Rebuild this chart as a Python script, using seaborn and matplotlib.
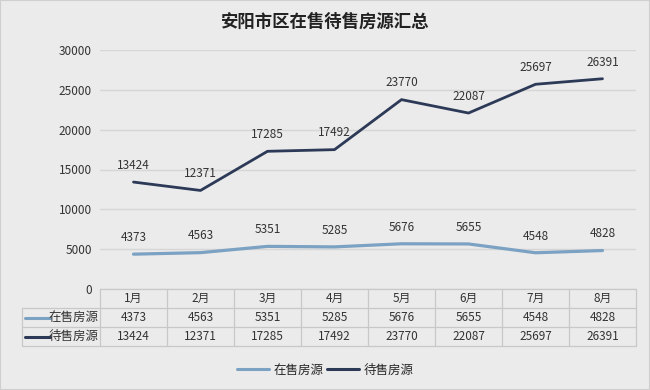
import matplotlib
matplotlib.use("Agg")

import matplotlib.pyplot as plt
import seaborn as sns
import pandas as pd
from matplotlib.lines import Line2D

# Data
months = ["1月", "2月", "3月", "4月", "5月", "6月", "7月", "8月"]
on_sale = [4373, 4563, 5351, 5285, 5676, 5655, 4548, 4828]
pending = [13424, 12371, 17285, 17492, 23770, 22087, 25697, 26391]
series_names = ["在售房源", "待售房源"]
colors = ["#7ba2c2", "#2c3a57"]

sns.set_theme(style="white")
plt.rcParams["font.family"] = ["Noto Sans CJK SC", "DejaVu Sans"]

bg = "#ebebeb"
text_col = "#333333"
fig = plt.figure(figsize=(6.5, 3.9), dpi=100, facecolor=bg)
ax = fig.add_axes([100 / 650, 101 / 390, 536 / 650, 239 / 390])
ax.set_facecolor(bg)

df = pd.DataFrame({"x": range(len(months)), series_names[0]: on_sale, series_names[1]: pending})
for name, col, lw in zip(series_names, colors, [2.3, 2.0]):
    sns.lineplot(data=df, x="x", y=name, ax=ax, color=col, linewidth=lw)
    for i, v in enumerate(df[name]):
        ax.annotate(f"{v}", (i, v), xytext=(0, 12), textcoords="offset points",
                    ha="center", va="center", fontsize=8.5, color=text_col)

ax.set_xlim(-0.5, len(months) - 0.5)
ax.set_ylim(0, 30000)
ax.set_yticks(range(0, 30001, 5000))
ax.set_yticklabels([str(t) for t in range(0, 30001, 5000)], fontsize=8.5, color=text_col)
ax.tick_params(axis="y", length=0, pad=6)
ax.set_xticks([])
ax.set_xlabel("")
ax.set_ylabel("")
ax.grid(axis="y", color="#d6d6d6", linewidth=1)
for s in ax.spines.values():
    s.set_visible(False)

# data table under the plot
tr = ax.get_xaxis_transform()
row_h = 19 / 239
left = -0.5 - 78 / 67
line_kw = dict(color="#c8c8c8", linewidth=0.9, transform=tr, clip_on=False)
for r in range(4):
    y = -r * row_h
    x0 = -0.5 if r == 0 else left
    ax.add_line(Line2D([x0, len(months) - 0.5], [y, y], **line_kw))
ax.add_line(Line2D([left, left], [-row_h, -3 * row_h], **line_kw))
for c in range(len(months) + 1):
    ax.add_line(Line2D([c - 0.5, c - 0.5], [0, -3 * row_h], **line_kw))

for i, m in enumerate(months):
    ax.text(i, -0.5 * row_h, m, transform=tr, ha="center", va="center", fontsize=8.5, color=text_col)
for r, (name, vals, col) in enumerate(zip(series_names, [on_sale, pending], colors), start=1):
    yc = -(r + 0.5) * row_h
    ax.add_line(Line2D([left + 0.05, left + 0.42], [yc, yc], color=col, linewidth=2.2,
                       transform=tr, clip_on=False))
    ax.text(-0.52, yc, name, transform=tr, ha="right", va="center", fontsize=9, color=text_col)
    for i, v in enumerate(vals):
        ax.text(i, yc, str(v), transform=tr, ha="center", va="center", fontsize=8.5, color=text_col)

# legend
handles = [Line2D([], [], color=c, linewidth=2.2) for c in colors]
fig.legend(handles, series_names, loc="center", bbox_to_anchor=(0.5, 20 / 390), ncol=2,
           frameon=False, fontsize=9, handlelength=2.6, handletextpad=0.3, columnspacing=0.3)

fig.text(0.5, 1 - 22 / 390, "安阳市区在售待售房源汇总", ha="center", va="center",
         fontsize=12.5, fontweight="bold", color="#222222")

fig.patches.append(plt.Rectangle((0, 0), 1, 1, transform=fig.transFigure, fill=False,
                                 edgecolor="#cfcfcf", linewidth=1.5))

fig.savefig("out.png", dpi=100, facecolor=bg)
